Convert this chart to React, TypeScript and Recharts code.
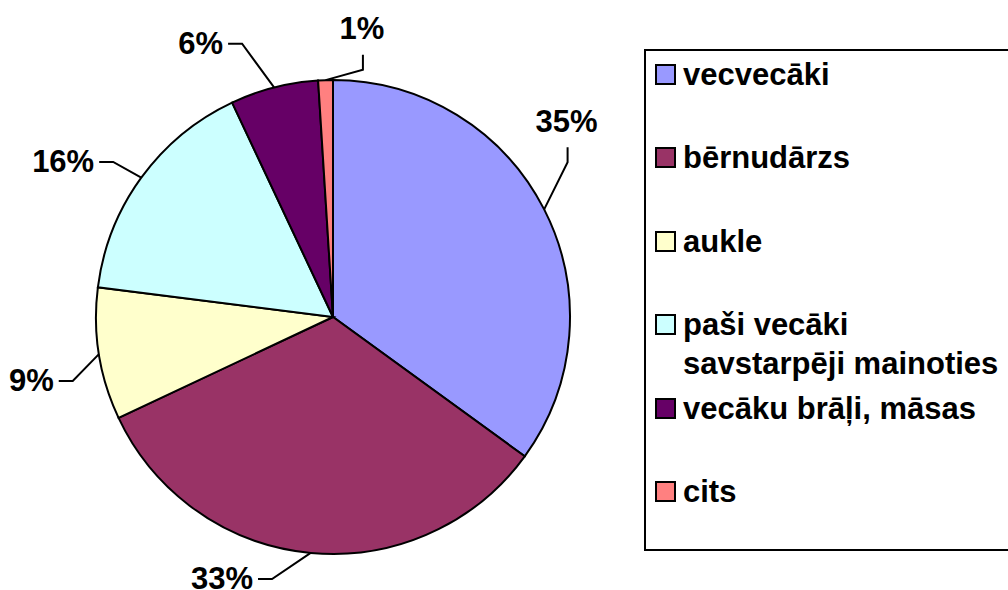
import { PieChart, Pie } from 'recharts'

const CATEGORIES = [
  'vecvecāki',
  'bērnudārzs',
  'aukle',
  'paši vecāki savstarpēji mainoties',
  'vecāku brāļi, māsas',
  'cits',
]
const SHARES = [35, 33, 9, 16, 6, 1]
const COLORS = ['#9999FF', '#993366', '#FFFFCC', '#CCFFFF', '#660066', '#FF8080']

// leader line shape per slice: radial extension, angular turn (deg, clockwise), last segment direction
const LEADERS: { ext: number; turn: number; dir: 'up' | 'left' }[] = [
  { ext: 44, turn: -6.4, dir: 'up' },
  { ext: 32, turn: 7.7, dir: 'left' },
  { ext: 31, turn: -4.8, dir: 'left' },
  { ext: 32, turn: -0.8, dir: 'left' },
  { ext: 51, turn: -4, dir: 'left' },
  { ext: 12, turn: 8.7, dir: 'up' },
]

const FONT = '"Liberation Sans", Arial, sans-serif'
const RAD = Math.PI / 180

const data = CATEGORIES.map((name, i) => ({ name, value: SHARES[i], fill: COLORS[i] }))

function polar(cx: number, cy: number, r: number, deg: number) {
  return { x: cx + r * Math.cos(deg * RAD), y: cy - r * Math.sin(deg * RAD) }
}

function renderLabel(props: any) {
  const { cx, cy, midAngle, outerRadius, index, value } = props
  const l = LEADERS[index]
  const p0 = polar(cx, cy, outerRadius, midAngle)
  const p1 = polar(cx, cy, outerRadius + l.ext, midAngle - l.turn)
  const p2 = l.dir === 'up' ? { x: p1.x, y: p1.y - 15 } : { x: p1.x - 14, y: p1.y }
  const tx = l.dir === 'up' ? p2.x - 1 : p2.x - 5
  const ty = l.dir === 'up' ? p2.y - 26 : p2.y
  return (
    <g key={`lbl-${index}`}>
      <polyline
        points={`${p0.x},${p0.y} ${p1.x},${p1.y} ${p2.x},${p2.y}`}
        fill="none"
        stroke="#000"
        strokeWidth={2}
      />
      <text
        x={tx}
        y={ty}
        textAnchor={l.dir === 'up' ? 'middle' : 'end'}
        dominantBaseline="central"
        style={{ fontFamily: FONT, fontSize: 31, fontWeight: 700, fill: '#000' }}
      >
        {value}%
      </text>
    </g>
  )
}

function ChartLegend() {
  return (
    <div
      style={{
        position: 'absolute',
        left: 644,
        top: 49,
        boxSizing: 'border-box',
        width: 380,
        height: 502,
        border: '2px solid #000',
        paddingTop: 3.5,
        fontFamily: FONT,
        fontWeight: 700,
        fontSize: 31,
        lineHeight: '39px',
        color: '#000',
        background: '#fff',
      }}
    >
      {data.map((entry, i) => (
        <div key={i} style={{ display: 'flex', alignItems: 'flex-start', height: 83.6 }}>
          <div
            style={{
              boxSizing: 'border-box',
              width: 21,
              height: 21,
              marginTop: 9,
              marginLeft: 9,
              marginRight: 7,
              flexShrink: 0,
              border: '2px solid #000',
              background: entry.fill,
            }}
          />
          <div style={{ width: 325, whiteSpace: 'normal' }}>{entry.name}</div>
        </div>
      ))}
    </div>
  )
}

export default function App() {
  return (
    <div
      style={{
        position: 'absolute',
        left: 0,
        top: 0,
        width: 1008,
        height: 590,
        overflow: 'hidden',
        background: '#fff',
      }}
    >
      <div style={{ position: 'absolute', left: 0, top: 0 }}>
        <PieChart width={1008} height={590} margin={{ top: 0, right: 0, bottom: 0, left: 0 }}>
          <Pie
            data={data}
            dataKey="value"
            nameKey="name"
            cx={333}
            cy={317}
            outerRadius={237}
            startAngle={90}
            endAngle={-270}
            stroke="#000"
            strokeWidth={2}
            label={renderLabel}
            labelLine={false}
            isAnimationActive={false}
          />
        </PieChart>
      </div>
      <ChartLegend />
    </div>
  )
}
